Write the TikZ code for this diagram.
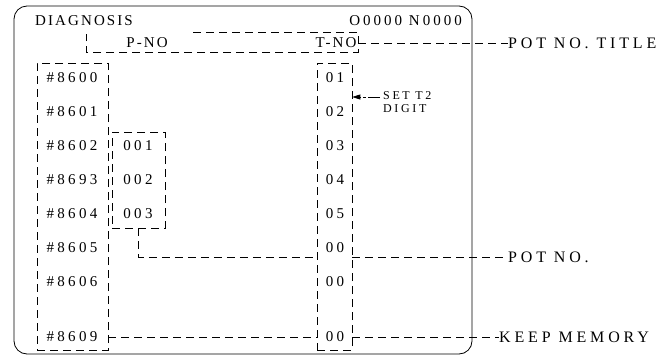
\documentclass[tikz,border=0pt]{standalone}
\usepackage{fontspec}
\setmainfont{Liberation Serif}
\usetikzlibrary{arrows.meta}
\begin{document}
\begin{tikzpicture}[x=1pt,y=-1pt,
  dline/.style={line width=0.7pt, dash pattern=on 8pt off 5pt},
  dbox/.style={draw, dline, inner sep=0pt},
  txt/.style={inner sep=0pt, font=\fontsize{15}{15}\selectfont\addfontfeature{LetterSpace=22}},
  hdr/.style={inner sep=0pt, font=\fontsize{15}{15}\selectfont\addfontfeature{LetterSpace=14}},
  lbl/.style={inner sep=0pt, anchor=west, font=\fontsize{16}{16}\selectfont\addfontfeature{LetterSpace=24}},
  small/.style={inner sep=0pt, anchor=north west, align=left, font=\fontsize{12}{13}\selectfont\addfontfeature{LetterSpace=22}}
]
\useasboundingbox (0,0) rectangle (663,356);
\clip (0,0) rectangle (663,356);
\fill[white] (0,0) rectangle (663,356);

% screen frame
\node[draw, line width=0.8pt, rounded corners=13pt, minimum width=458pt, minimum height=348pt, inner sep=0pt] (screen) at (243,180) {};

% header texts
\node[hdr, anchor=west] (diag) at (35,21) {DIAGNOSIS};
\node[hdr, anchor=east, font=\fontsize{15}{15}\selectfont\addfontfeature{LetterSpace=20}] (prog) at (462,21) {O0000 N0000};
\node[hdr] (pno) at (147,43) {P-NO};
\node[hdr] (tno) at (336,43) {T-NO};

% header dashed outline
\coordinate (hA) at (193,32);
\coordinate (hB) at (358,32);
\coordinate (hC) at (358,52);
\coordinate (hD) at (86,52);
\coordinate (hE) at (86,34);
\draw[dline] (hA) -- (hB) -- (hC) -- (hD) -- (hE);

% column boxes
\node[dbox, minimum width=71pt, minimum height=287pt] (pcol) at (72.5,206.5) {};
\node[dbox, minimum width=53pt, minimum height=96pt] (mcol) at (138.5,180) {};
\node[dbox, minimum width=35pt, minimum height=287pt] (tcol) at (334.5,206.5) {};

% left column
\node[txt] (p0) at (72,78) {\#8600};
\node[txt] (p1) at (72,112) {\#8601};
\node[txt] (p2) at (72,146) {\#8602};
\node[txt] (p3) at (72,180) {\#8693};
\node[txt] (p4) at (72,214) {\#8604};
\node[txt] (p5) at (72,248) {\#8605};
\node[txt] (p6) at (72,282) {\#8606};
\node[txt] (p9) at (72,337) {\#8609};

% middle column
\node[txt] (m1) at (138,146) {001};
\node[txt] (m2) at (138,180) {002};
\node[txt] (m3) at (138,214) {003};

% T column
\node[txt] (t1) at (335,78) {01};
\node[txt] (t2) at (335,112) {02};
\node[txt] (t3) at (335,146) {03};
\node[txt] (t4) at (335,180) {04};
\node[txt] (t5) at (335,214) {05};
\node[txt] (t6) at (335,248) {00};
\node[txt] (t7) at (335,282) {00};
\node[txt] (t9) at (335,337) {00};

% right labels
\node[lbl] (ltitle) at (508,43) {POT NO. TITLE};
\node[lbl] (lpot) at (508,257) {POT NO.};
\node[lbl] (lkeep) at (499,337) {KEEP MEMORY};
\node[small] (lset) at (383,91) {SET T2\\DIGIT};

% connectors
\coordinate (r6) at (0,257);
\coordinate (ra) at (0,97);
\draw[dline] (tno.east -| hC) -- (ltitle.west);
\draw[dline] (mcol.south) -- (mcol.south |- r6) -- (tcol.west |- r6);
\draw[dline] (tcol.east |- r6) -- (lpot.west);
\draw[dline] (pcol.east |- p9) -- (tcol.west |- p9);
\draw[dline] (tcol.east |- p9) -- (lkeep.west);
\draw[line width=0.8pt, dash pattern=on 12pt off 2pt on 3pt off 2pt, -{Triangle[length=8pt,width=5pt]}] (lset.west |- ra) ++(-3,0) -- (tcol.east |- ra);
\end{tikzpicture}
\end{document}
